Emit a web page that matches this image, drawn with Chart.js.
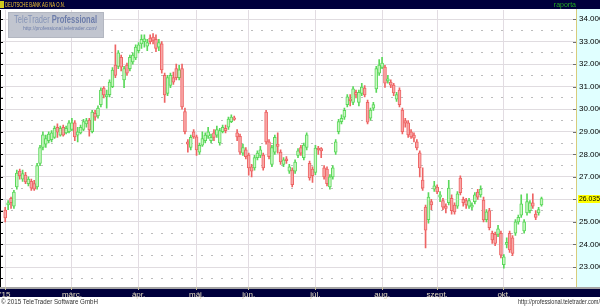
<!DOCTYPE html>
<html>
<head>
<meta charset="utf-8">
<script src="https://cdn.jsdelivr.net/npm/chart.js@4.4.1/dist/chart.umd.min.js"></script>
<style>
html, body { margin: 0; padding: 0; background: #fff; }
</style>
</head>
<body>
<canvas id="stock" width="600" height="306"></canvas>
<script>
// daily candles, DEUTSCHE BANK AG NA O.N., late Jan - mid Oct 2015
var opens = [25.53,25.75,26.05,25.7,26.55,27.26,26.9,27.08,26.7,26.8,26.7,26.55,27.6,28.3,28.45,28.6,28.65,28.75,29.2,28.85,
	29.2,28.95,29.0,29.1,29.4,28.85,28.95,29.1,29.35,29.52,29.0,29.82,29.7,30.2,30.94,30.55,30.65,31.0,31.96,31.9,
	32.3,31.3,31.96,31.8,32.1,32.27,32.6,32.9,33.0,32.8,33.15,33.2,33.1,32.75,32.9,31.5,30.7,31.05,31.4,31.8,
	31.4,31.8,29.9,28.55,28.3,29.0,28.77,28.1,28.4,28.6,28.8,28.6,28.95,28.85,28.5,29.0,29.15,29.2,29.45,29.62,
	28.95,28.8,28.05,28.2,27.97,27.45,27.4,27.85,27.95,27.97,29.87,28.55,27.55,28.1,28.45,28.1,27.55,27.8,27.25,27.3,
	27.25,27.95,28.3,27.85,28.3,27.6,27.35,27.2,28.28,28.25,27.4,27.35,26.55,27.0,28.1,29.0,29.45,29.65,30.2,30.45,
	30.3,30.75,30.3,30.7,30.94,30.3,29.6,30.05,30.9,31.6,31.85,31.87,31.25,31.2,31.07,30.45,30.85,29.96,29.5,29.4,
	29.0,28.85,28.55,28.06,26.86,25.66,25.1,25.9,26.45,26.55,26.1,25.95,25.7,25.85,26.05,25.75,25.7,26.95,26.0,25.95,
	25.7,25.65,25.9,26.33,26.2,25.97,25.1,25.5,24.5,24.45,24.45,24.5,23.1,24.0,24.5,24.3,24.5,25.0,25.3,24.6,
	25.4,25.5,25.85,25.35,25.4,25.75];
var highs = [25.65,25.95,26.1,26.4,27.3,27.35,27.3,27.2,27.0,26.9,26.85,27.6,28.4,29.0,28.85,29.0,29.05,29.25,29.35,29.25,
	29.3,29.25,29.5,29.6,29.5,29.2,29.3,29.55,29.6,29.6,29.95,29.95,30.15,30.95,31.0,30.85,31.3,31.85,32.85,32.6,
	32.4,31.9,32.05,32.4,32.5,32.85,32.95,33.3,33.3,33.1,33.3,33.35,33.3,33.1,33.0,31.6,31.5,31.6,31.65,32.0,
	31.95,32.0,30.05,28.65,28.85,29.1,28.85,28.5,29.0,28.95,29.2,28.9,29.1,29.25,29.15,29.3,29.3,29.65,29.75,29.7,
	29.1,28.9,28.45,28.3,28.05,27.55,27.95,28.15,28.35,28.05,29.95,28.65,28.4,28.85,28.95,28.2,27.85,27.9,27.55,27.4,
	27.75,28.25,28.4,28.5,28.95,27.7,27.45,28.4,28.35,28.3,27.5,27.45,27.1,27.5,28.65,29.55,29.75,30.05,30.65,30.65,
	31.0,30.85,30.85,31.15,31.05,30.4,30.05,30.3,31.9,32.2,32.3,31.95,31.5,31.3,31.15,30.75,30.95,30.05,29.6,29.5,
	29.1,28.95,28.65,28.15,27.4,25.75,26.3,26.0,26.8,26.65,26.35,26.05,25.8,26.85,26.2,25.85,26.35,27.05,26.1,26.05,
	26.05,25.85,26.3,26.45,26.6,26.1,25.55,25.6,24.6,24.55,24.85,24.6,23.55,24.3,24.6,24.4,25.1,25.3,26.2,25.1,
	26.25,25.95,26.25,25.5,25.65,26.1];
var lows = [25.0,25.55,25.6,25.6,26.45,26.9,26.8,26.7,26.6,26.4,26.4,26.45,27.5,28.2,28.3,28.5,28.55,28.7,28.75,28.8,
	28.8,28.9,28.95,29.05,28.6,28.55,28.9,29.05,29.2,28.8,28.95,29.5,29.6,30.1,30.5,30.05,30.55,30.95,31.4,31.8,
	31.7,30.95,31.5,31.7,32.0,32.2,32.5,32.7,32.75,32.6,32.9,32.9,32.55,32.6,31.6,30.3,30.6,30.95,31.1,31.3,
	31.3,30.0,28.9,28.1,28.2,28.7,27.95,28.0,28.35,28.5,28.7,28.5,28.6,28.75,28.4,28.95,28.95,29.1,29.4,29.5,
	28.6,28.0,27.95,27.8,27.08,27.0,27.3,27.75,27.85,27.3,28.45,27.8,27.45,28.0,28.05,27.55,27.45,27.6,27.15,26.55,
	27.15,27.85,27.95,27.75,28.2,26.85,26.75,27.1,28.0,27.85,26.9,26.6,26.45,26.9,28.0,28.9,29.35,29.55,30.1,30.15,
	30.2,30.5,30.15,30.6,30.55,29.35,29.5,29.95,30.75,31.5,31.8,30.97,31.15,30.95,30.6,30.35,30.1,28.9,29.2,28.75,
	28.7,28.55,28.2,27.0,26.4,23.85,24.95,25.55,26.35,26.25,25.9,25.55,25.4,25.75,25.35,25.35,25.6,26.2,25.7,25.6,
	25.6,25.55,25.8,26.0,26.1,25.0,25.0,24.65,24.05,23.95,24.35,23.4,22.95,23.85,23.65,23.5,24.4,24.9,25.2,24.5,
	25.3,25.4,25.6,25.1,25.3,25.7];
var closes = [25.18,25.85,25.85,26.33,27.17,27.04,27.15,26.77,26.9,26.5,26.45,27.5,28.3,28.86,28.7,28.9,28.95,29.15,28.98,29.15,
	28.85,29.15,29.4,29.4,28.77,29.0,29.2,29.45,29.5,29.08,29.87,29.65,30.05,30.85,30.63,30.65,31.2,31.74,31.5,32.5,
	31.87,31.8,31.6,32.3,32.4,32.76,32.85,33.1,33.12,32.95,33.0,33.05,32.7,32.95,31.74,30.63,31.4,31.5,31.2,31.4,
	31.75,30.1,29.0,28.45,28.75,28.77,28.2,28.4,28.7,28.85,29.0,28.75,28.75,29.1,29.05,29.2,29.05,29.56,29.65,29.55,
	28.77,28.1,28.3,27.9,27.4,27.25,27.85,28.05,28.2,27.4,28.55,27.9,28.3,28.75,28.35,27.66,27.75,27.72,27.45,26.65,
	27.66,28.15,28.05,28.41,28.86,26.95,27.05,28.28,28.19,28.15,27.0,26.7,27.0,27.4,28.55,29.45,29.6,29.95,30.55,30.38,
	30.9,30.63,30.75,30.98,30.63,29.43,29.96,30.2,31.8,31.96,32.05,31.16,31.35,31.07,30.72,30.65,30.2,29.0,29.38,28.86,
	28.77,28.72,28.28,27.4,26.5,24.64,26.1,25.75,26.6,26.33,26.2,25.65,25.6,26.5,25.5,25.45,26.25,26.3,25.85,25.75,
	25.95,25.75,26.2,26.1,26.45,25.09,25.45,24.75,24.2,24.05,24.7,23.53,23.45,24.1,23.76,23.6,25.0,25.2,25.8,25.0,
	25.9,25.85,25.7,25.2,25.55,26.035];

var monthStarts = [0, 23, 46, 66, 84, 107, 130, 149, 172];
var monthLabels = ["'15", 'márc.', 'ápr.', 'máj.', 'jún.', 'júl.', 'aug.', 'szept.', 'okt.'];
var priceTicks = [23, 24, 25, 26, 27, 28, 29, 30, 31, 32, 33, 34];
var halfTicks = [22.5, 23.5, 24.5, 25.5, 26.5, 27.5, 28.5, 29.5, 30.5, 31.5, 32.5, 33.5];

var lastClose = closes[closes.length - 1];
var upLine = '#5ad85a', upFill = '#c8f6c0';
var downLine = '#ee6464', downFill = '#f8a8a8';
var sans = '"Liberation Sans", Arial, sans-serif';

function isUp(i) { return closes[i] >= opens[i]; }

var bodies = [], wicks = [];
for (var i = 0; i < closes.length; i++) {
	bodies.push({ x: i, y: [opens[i], closes[i]] });
	wicks.push({ x: i, y: [lows[i], highs[i]] });
}

var frame = {
	id: 'frame',
	beforeDraw: function(chart) {
		var c = chart.ctx, a = chart.chartArea;
		c.save();
		c.fillStyle = '#ffffff';
		c.fillRect(0, 0, chart.width, chart.height);
		c.fillStyle = '#e0ffff';
		c.fillRect(a.right, 9, chart.width - a.right, a.bottom - 9);
		c.fillStyle = '#00003c';
		c.fillRect(0, 0, chart.width, 9);
		c.fillRect(0, a.bottom + 2, chart.width, 8);
		c.fillStyle = '#a4a4a4';
		c.fillRect(0, a.bottom, chart.width, 2);
		c.restore();
	},
	afterDraw: function(chart) {
		var c = chart.ctx, a = chart.chartArea, y = chart.scales.y;
		c.save();
		// left and right frame with small ticks
		c.fillStyle = '#000000';
		c.fillRect(0, a.top, 1, a.bottom - a.top);
		priceTicks.concat(halfTicks).forEach(function(v) {
			c.fillRect(1, Math.round(y.getPixelForValue(v)), 2, 1);
		});
		c.fillStyle = '#d8cc7c';
		c.fillRect(a.right - 1, 9, 1, a.bottom - 9);
		c.fillStyle = '#707070';
		priceTicks.forEach(function(v) {
			c.fillRect(a.right - 4, Math.round(y.getPixelForValue(v)), 3, 1);
		});

		// last price marker
		var lp = y.getPixelForValue(lastClose);
		c.fillStyle = '#ffff00';
		c.fillRect(a.right + 1, Math.round(lp) - 4, 22, 8);
		c.fillStyle = '#000000';
		c.font = '8px ' + sans;
		c.textBaseline = 'middle';
		c.textAlign = 'left';
		c.fillText(lastClose.toFixed(3), a.right + 2, lp, 21);

		// top bar
		c.fillStyle = '#d0c820';
		c.fillRect(0, 1, 4, 7);
		c.fillStyle = '#f0c030';
		c.font = '8px ' + sans;
		c.fillText('DEUTSCHE BANK AG NA O.N.', 5, 5, 60);
		c.fillStyle = '#22aa22';
		c.font = '7px ' + sans;
		c.textAlign = 'right';
		c.fillText('raporta', 576, 5);

		// footer
		c.fillStyle = '#303030';
		c.font = '8px ' + sans;
		c.textAlign = 'left';
		c.fillText('\u00a9 2015 TeleTrader Software GmbH', 1, 302, 97);
		c.font = '7px ' + sans;
		c.textAlign = 'right';
		c.fillText('http://professional.teletrader.com/', 600, 302, 82);

		// watermark
		c.fillStyle = 'rgba(190,194,204,0.95)';
		c.fillRect(8, 12, 96, 26);
		c.strokeStyle = '#a4a8b2';
		c.setLineDash([1, 1]);
		c.strokeRect(8.5, 12.5, 95, 25);
		c.setLineDash([]);
		c.textAlign = 'left';
		c.font = '11px ' + sans;
		var w1 = c.measureText('TeleTrader ').width;
		c.font = 'bold 11px ' + sans;
		var w2 = c.measureText('Professional').width;
		c.save();
		c.translate(14, 19.5);
		c.scale(83 / (w1 + w2), 1);
		c.fillStyle = '#8493b6';
		c.font = '11px ' + sans;
		c.fillText('TeleTrader ', 0, 0);
		c.fillStyle = '#6c7caa';
		c.font = 'bold 11px ' + sans;
		c.fillText('Professional', w1, 0);
		c.restore();
		c.fillStyle = '#6c7caa';
		c.font = '6px ' + sans;
		c.fillText('http://professional.teletrader.com/', 23, 28, 74);
		c.restore();
	}
};

var ctx = document.getElementById('stock').getContext('2d');
var stock = new Chart(ctx, {
	type: 'bar',
	data: {
		datasets: [{
			label: 'body',
			data: bodies,
			yAxisID: 'y',
			grouped: false,
			barThickness: 3,
			minBarLength: 1,
			borderWidth: 1,
			borderSkipped: false,
			backgroundColor: function(c) { return isUp(c.dataIndex) ? upFill : downFill; },
			borderColor: function(c) { return isUp(c.dataIndex) ? upLine : downLine; }
		}, {
			label: 'wick',
			data: wicks,
			yAxisID: 'y',
			grouped: false,
			barThickness: 1,
			borderWidth: 0,
			backgroundColor: function(c) { return isUp(c.dataIndex) ? upLine : downLine; }
		}]
	},
	options: {
		responsive: false,
		animation: false,
		layout: { autoPadding: false, padding: { top: 10, left: 1, right: 0, bottom: 0 } },
		plugins: {
			legend: { display: false },
			tooltip: { enabled: false }
		},
		scales: {
			x: {
				type: 'linear',
				min: -1.38,
				max: 197.24,
				offset: false,
				afterBuildTicks: function(s) {
					s.ticks = monthStarts.map(function(v) { return { value: v }; });
				},
				afterFit: function(s) { s.height = 19; },
				ticks: {
					autoSkip: false,
					maxRotation: 0,
					padding: 0,
					color: '#e4dcc0',
					font: { family: sans, size: 8 },
					callback: function(v, i) { return monthLabels[i]; }
				},
				grid: { offset: false, color: '#e2dce2', tickColor: '#c8c0a0', tickLength: 3 },
				border: { display: false }
			},
			y: {
				position: 'right',
				min: 22.115,
				max: 34.4,
				beginAtZero: false,
				afterBuildTicks: function(s) {
					s.ticks = priceTicks.map(function(v) { return { value: v }; });
				},
				afterFit: function(s) { s.width = 23; },
				ticks: {
					padding: 2,
					color: '#000000',
					font: { family: sans, size: 8 },
					callback: function(v) { return Math.abs(v - lastClose) < 0.5 ? '' : v.toFixed(3); }
				},
				grid: { color: '#e0dce0', drawTicks: false },
				border: { display: false }
			},
			yHalf: {
				position: 'left',
				min: 22.115,
				max: 34.4,
				beginAtZero: false,
				afterBuildTicks: function(s) {
					s.ticks = halfTicks.map(function(v) { return { value: v }; });
				},
				afterFit: function(s) { s.width = 0; },
				ticks: { display: false },
				grid: { color: '#bcbcbc', drawTicks: false },
				border: { display: false, dash: [2, 8] }
			}
		}
	},
	plugins: [frame]
});
</script>
</body>
</html>
